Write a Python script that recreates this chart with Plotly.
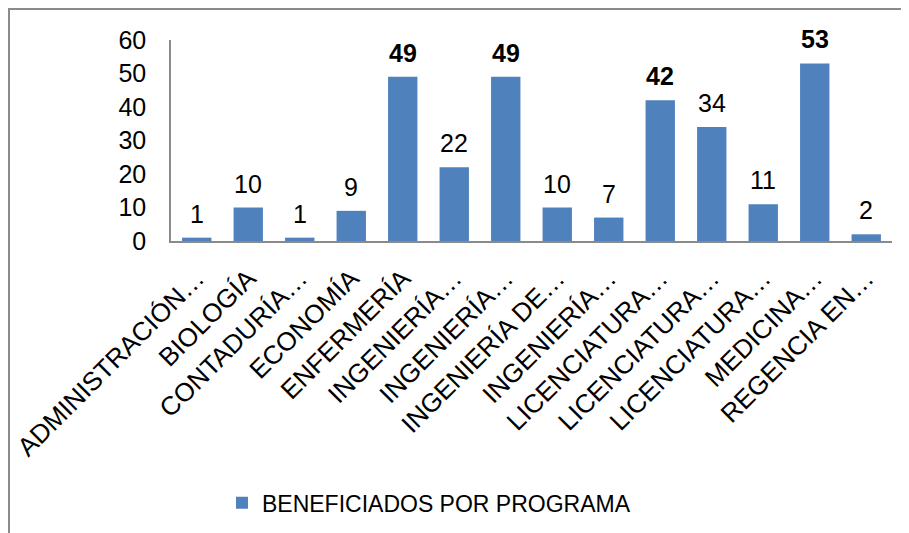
import plotly.graph_objects as go

categories = ["ADMINISTRACIÓN…", "BIOLOGÍA", "CONTADURÍA…", "ECONOMÍA", "ENFERMERÍA",
              "INGENIERÍA…", "INGENIERÍA…", "INGENIERÍA DE…", "INGENIERÍA…",
              "LICENCIATURA…", "LICENCIATURA…", "LICENCIATURA…", "MEDICINA…", "REGENCIA EN…"]
values = [1, 10, 1, 9, 49, 22, 49, 10, 7, 42, 34, 11, 53, 2]
bold_labels = [False, False, False, False, True, False, True, False, False, True, False, False, True, False]
series_name = "BENEFICIADOS POR PROGRAMA"
y_ticks = [0, 10, 20, 30, 40, 50, 60]

FONT = "Arial, Liberation Sans, sans-serif"
FS = 25
positions = list(range(len(categories)))

fig = go.Figure()
fig.add_trace(go.Bar(
    x=positions, y=values, name=series_name,
    marker=dict(color="#4F81BD", line=dict(width=0)),
    width=0.57, showlegend=True,
))

for x, v, b in zip(positions, values, bold_labels):
    fig.add_annotation(x=x, y=v, text=f"<b>{v}</b>" if b else str(v),
                       showarrow=False, yanchor="bottom", yshift=8,
                       font=dict(family=FONT, size=FS, color="black"))

fig.add_shape(type="rect", xref="paper", yref="paper",
              x0=-0.2247, x1=1.2, y0=-2.0, y1=1.154,
              line=dict(color="#8a8a8a", width=2), fillcolor="rgba(0,0,0,0)", layer="below")

fig.update_layout(
    width=901, height=525,
    margin=dict(l=163, r=17, t=32, b=292, autoexpand=False),
    paper_bgcolor="white", plot_bgcolor="white",
    font=dict(family=FONT, size=FS, color="black"),
    showlegend=True,
    legend=dict(orientation="h", x=0.0707, xanchor="left", y=-1.303, yanchor="middle",
                font=dict(family=FONT, size=23, color="black"), bgcolor="rgba(0,0,0,0)"),
    xaxis=dict(tickmode="array", tickvals=positions, ticktext=categories,
               tickangle=-45, range=[-0.5, len(categories) - 0.5],
               showline=True, linecolor="#8a8a8a", linewidth=1.5,
               showgrid=False, zeroline=False, ticks="", automargin=False,
               ticklabelstandoff=10,
               tickfont=dict(family=FONT, size=26, color="black")),
    yaxis=dict(range=[0, 60], tickmode="array", tickvals=y_ticks,
               showline=True, linecolor="#8a8a8a", linewidth=1.5,
               showgrid=False, zeroline=False, ticks="", automargin=False,
               ticklabelstandoff=18,
               tickfont=dict(family=FONT, size=FS, color="black")),
)

fig.write_html("out.html")
